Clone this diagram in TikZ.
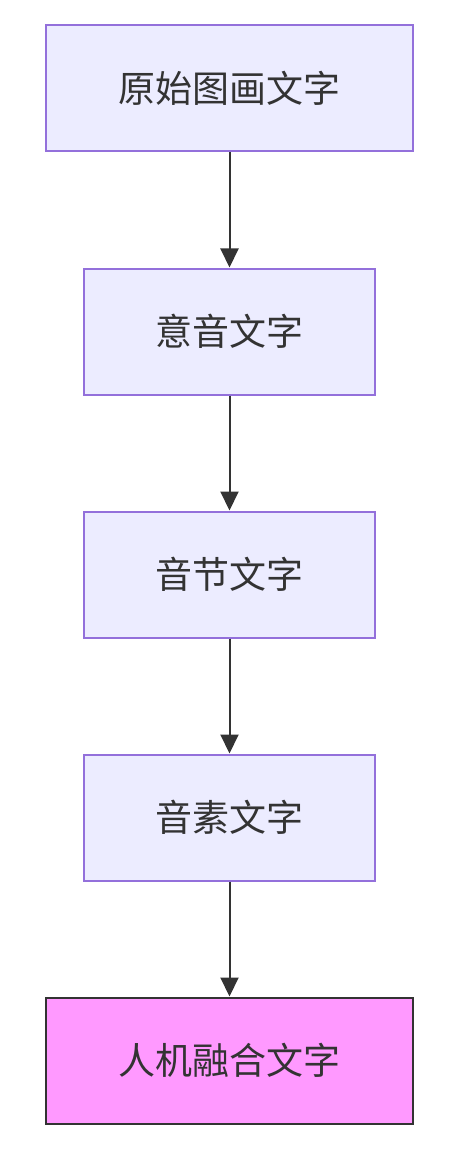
\documentclass[tikz,border=0pt]{standalone}
\usepackage{fontspec}
\newfontfamily\cjk{Noto Sans CJK SC}
\usetikzlibrary{positioning, arrows.meta}
\definecolor{boxfill}{HTML}{ECECFF}
\definecolor{boxline}{HTML}{9370DB}
\definecolor{darkline}{HTML}{333333}
\definecolor{pinkfill}{HTML}{FF99FF}
\begin{document}
\begin{tikzpicture}[->,>={Triangle[length=19pt,width=18pt]},line width=2pt,draw=darkline,node distance=115pt,
    base node/.style={rectangle,draw=boxline,fill=boxfill,minimum height=126pt,text=darkline,font=\cjk\fontsize{37pt}{44pt}\selectfont},
    wide node/.style={base node,minimum width=367pt},
    narrow node/.style={base node,minimum width=291pt},
    final node/.style={wide node,draw=darkline,fill=pinkfill}]
\useasboundingbox (0,0) rectangle (456pt,-1150pt);

\node[wide node]   (orig)    at (229.5pt,-88.5pt) {原始图画文字};
\node[narrow node] (ideo)    [below=of orig]      {意音文字};
\node[narrow node] (syll)    [below=of ideo]      {音节文字};
\node[narrow node] (phon)    [below=of syll]      {音素文字};
\node[final node]  (fusion)  [below=of phon]      {人机融合文字};
\path[draw=darkline]
(orig) edge (ideo)
(ideo) edge (syll)
(syll) edge (phon)
(phon) edge (fusion);
\end{tikzpicture}
\end{document}
